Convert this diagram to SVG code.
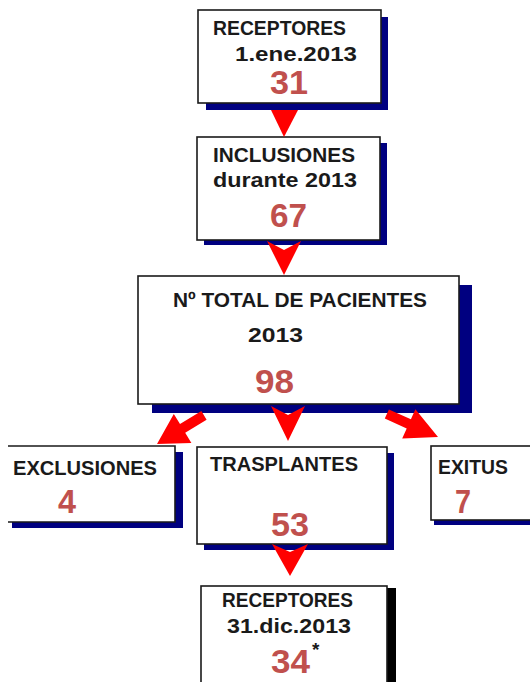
<svg xmlns="http://www.w3.org/2000/svg" width="530" height="682" viewBox="0 0 530 682">
<style>
.box{fill:#fff;stroke:#1a1a1a;stroke-width:1.6}
.sh{fill:#000080}
.shk{fill:#000}
.arr{fill:#ff0000}
.lbl{font-family:"Liberation Sans",Arial,sans-serif;font-weight:bold;font-size:20px;fill:#1a1a1a}
.num{font-family:"Liberation Sans",Arial,sans-serif;font-weight:bold;font-size:34px;fill:#c0504d}
</style>
<rect width="530" height="682" fill="#fff"/>
<g id="node-receptores-ene">
<rect class="sh" x="206" y="17" width="182" height="93"/>
<rect class="box" x="198" y="10" width="183" height="93"/>
<text class="lbl" x="213" y="35" textLength="133" lengthAdjust="spacingAndGlyphs">RECEPTORES</text>
<text class="lbl" x="235" y="61" textLength="122" lengthAdjust="spacingAndGlyphs">1.ene.2013</text>
<text class="num" x="270" y="94" textLength="38" lengthAdjust="spacingAndGlyphs">31</text>
</g>
<g id="node-inclusiones">
<rect class="sh" x="204" y="143" width="183" height="102"/>
<rect class="box" x="197" y="137" width="183" height="103"/>
<text class="lbl" x="213" y="162" textLength="142" lengthAdjust="spacingAndGlyphs">INCLUSIONES</text>
<text class="lbl" x="213" y="187" textLength="144" lengthAdjust="spacingAndGlyphs">durante 2013</text>
<text class="num" x="270" y="227" textLength="37" lengthAdjust="spacingAndGlyphs">67</text>
</g>
<g id="node-total">
<rect class="sh" x="152" y="285" width="320" height="128"/>
<rect class="box" x="138" y="276" width="321" height="128"/>
<text class="lbl" x="173" y="307" textLength="254" lengthAdjust="spacingAndGlyphs">Nº TOTAL DE PACIENTES</text>
<text class="lbl" x="248" y="342" textLength="55" lengthAdjust="spacingAndGlyphs">2013</text>
<text class="num" x="255" y="393" textLength="39" lengthAdjust="spacingAndGlyphs">98</text>
</g>
<g id="node-exclusiones">
<rect class="sh" x="12" y="452" width="171" height="76"/>
<rect x="0" y="446" width="175" height="76" fill="#fff"/>
<path d="M8 446 H175 V522 H8" fill="none" stroke="#1a1a1a" stroke-width="1.6"/>
<text class="lbl" x="13" y="475" textLength="144" lengthAdjust="spacingAndGlyphs">EXCLUSIONES</text>
<text class="num" x="58" y="513" textLength="18" lengthAdjust="spacingAndGlyphs">4</text>
</g>
<g id="node-trasplantes">
<rect class="sh" x="204" y="453" width="190" height="97"/>
<rect class="box" x="197" y="447" width="190" height="97"/>
<text class="lbl" x="210" y="471" textLength="148" lengthAdjust="spacingAndGlyphs">TRASPLANTES</text>
<text class="num" x="271" y="536" textLength="38" lengthAdjust="spacingAndGlyphs">53</text>
</g>
<g id="node-exitus">
<rect class="sh" x="434" y="452" width="100" height="73"/>
<rect class="box" x="431" y="446" width="110" height="74"/>
<text class="lbl" x="438" y="474" textLength="70" lengthAdjust="spacingAndGlyphs">EXITUS</text>
<text class="num" x="455" y="513" textLength="16" lengthAdjust="spacingAndGlyphs">7</text>
</g>
<g id="node-receptores-dic">
<rect class="shk" x="387" y="588" width="9" height="100"/>
<rect class="box" x="201" y="586" width="186" height="110"/>
<text class="lbl" x="222" y="607" textLength="131" lengthAdjust="spacingAndGlyphs">RECEPTORES</text>
<text class="lbl" x="227" y="633" textLength="124" lengthAdjust="spacingAndGlyphs">31.dic.2013</text>
<text class="lbl" x="312" y="656" style="font-size:19px">*</text>
<text class="num" x="271" y="673" textLength="39" lengthAdjust="spacingAndGlyphs">34</text>
</g>
<g id="connectors">
<polygon class="arr" points="271,110 298,110 284,137"/>
<polygon class="arr" points="267,241 284,250 301,241 284,275"/>
<polygon class="arr" points="157,444 191.4,442.9 185.2,432.7 206.6,419.7 201.4,411.1 180,424.1 173.8,413.9"/>
<polygon class="arr" points="271,406 288,415 305,406 288,441"/>
<polygon class="arr" points="438,437 402.2,438.4 406.7,428.4 384.8,418.5 388.9,409.4 410.9,419.2 415.4,409.2"/>
<polygon class="arr" points="272,544 290,552 308,544 290,576"/>
</g>
</svg>
